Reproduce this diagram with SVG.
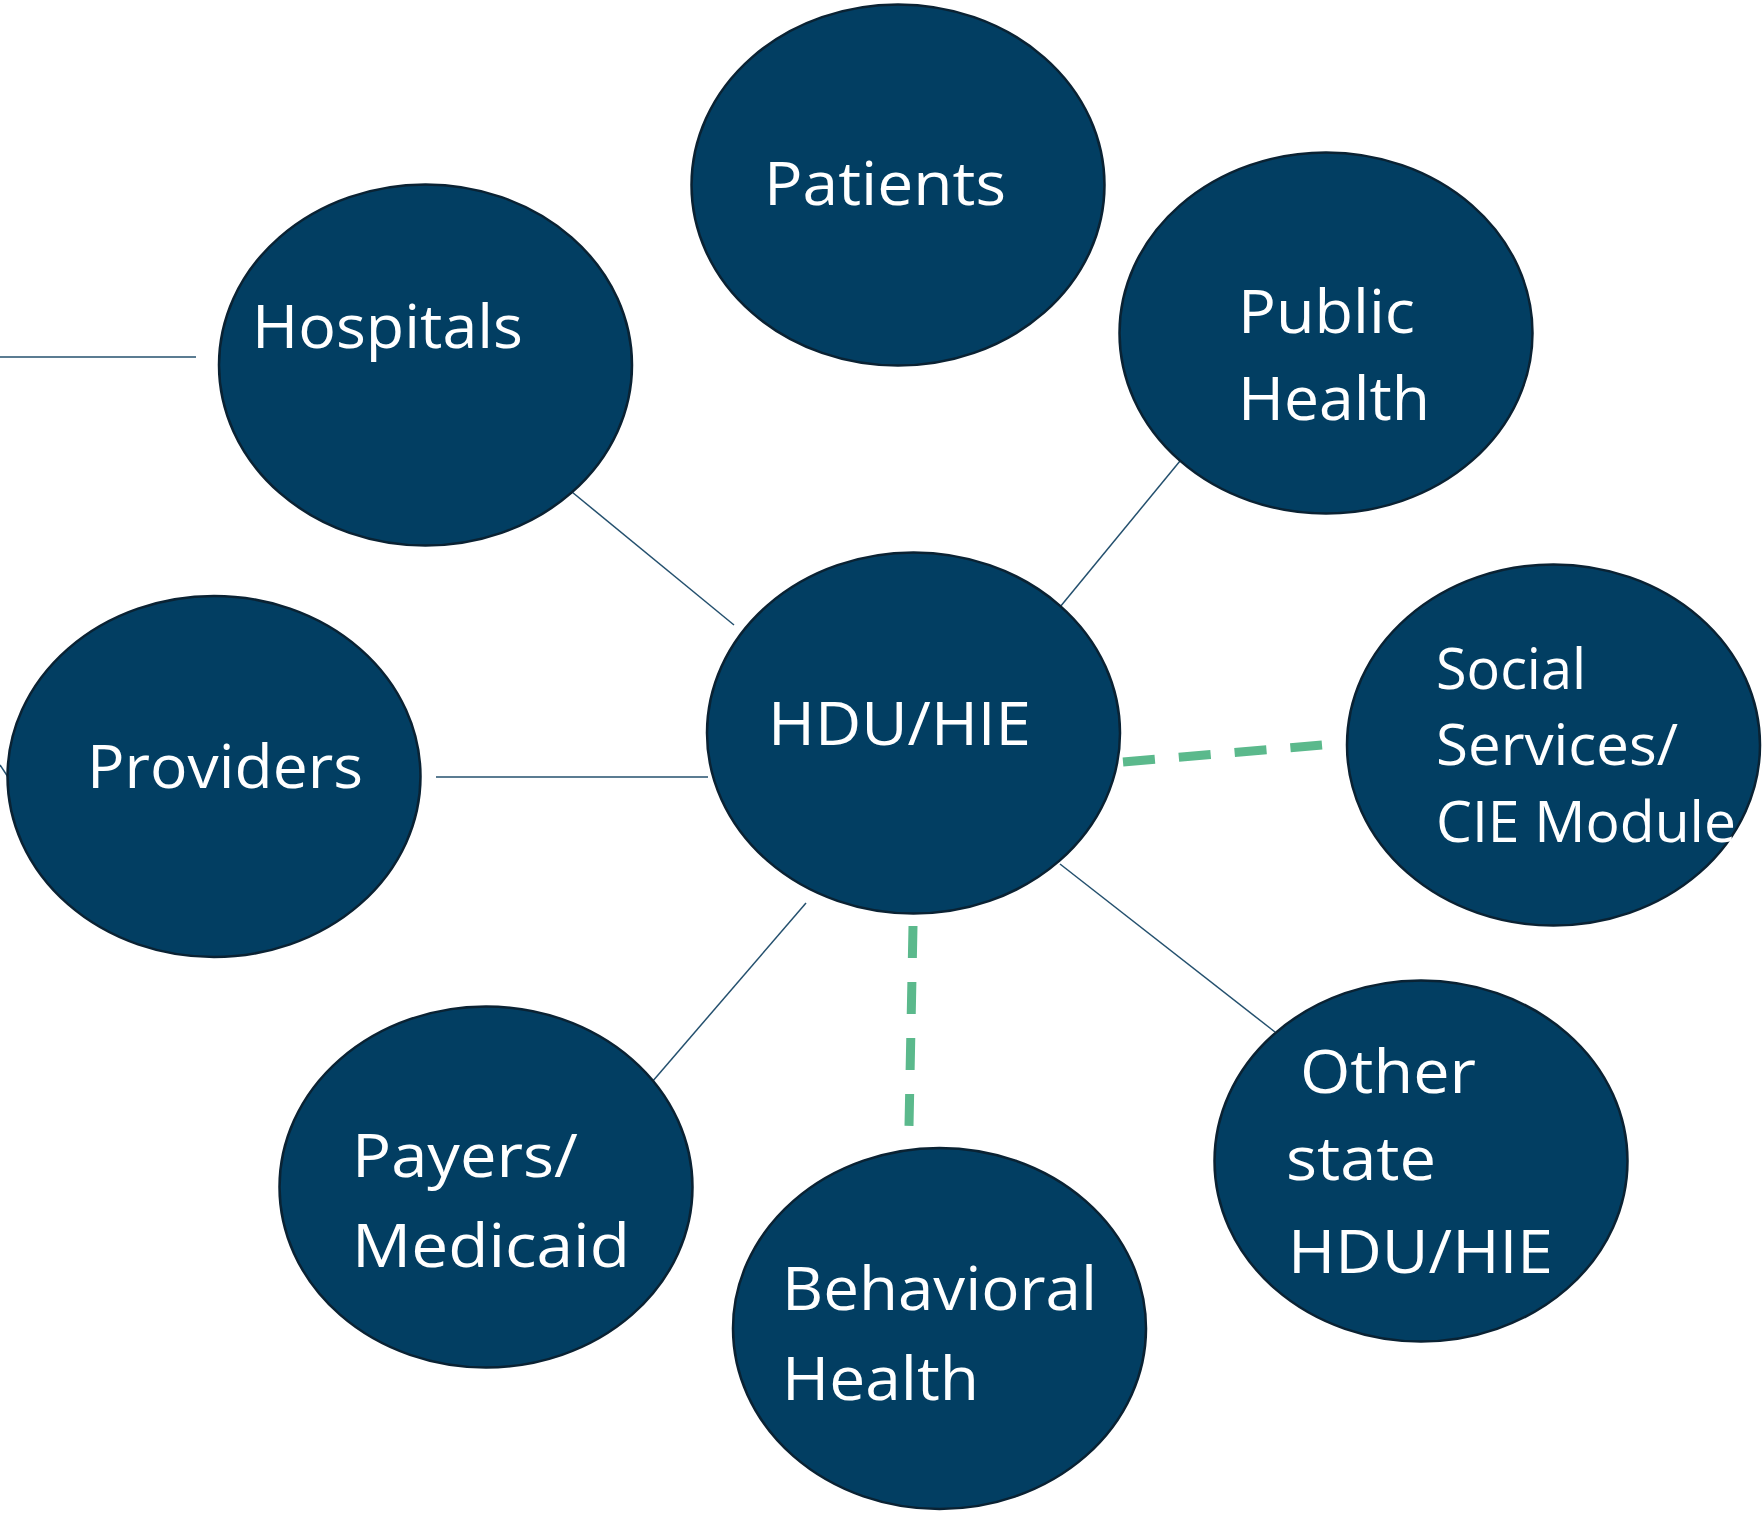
<svg xmlns="http://www.w3.org/2000/svg" width="1763" height="1513" viewBox="0 0 1763 1513">
<style>
.node ellipse{fill:#023e62;stroke:#0a2233;stroke-width:2.5}
.node text{fill:#ffffff;font-family:"Open Sans","Noto Sans","Liberation Sans",sans-serif;font-size:60px}
.solid{stroke:#24506e;stroke-width:1.5;fill:none}
.dash{stroke:#5bb98c;stroke-width:9;stroke-dasharray:32 24;fill:none}
</style>
<rect width="1763" height="1513" fill="#ffffff"/>
<g id="connectors">
<line class="solid" x1="0" y1="357" x2="196" y2="357"/>
<line class="solid" x1="0" y1="765" x2="8" y2="777"/>
<line class="solid" x1="572" y1="492" x2="734" y2="625"/>
<line class="solid" x1="1180" y1="461" x2="1060" y2="607"/>
<line class="solid" x1="436" y1="777" x2="708" y2="777"/>
<line class="solid" x1="652" y1="1082" x2="806" y2="903"/>
<line class="solid" x1="1060" y1="864" x2="1275" y2="1032"/>
<line class="dash" x1="1123" y1="762" x2="1322" y2="745"/>
<line class="dash" x1="913" y1="926" x2="909" y2="1126"/>
</g>
<g id="patients" class="node"><ellipse cx="898" cy="185" rx="206.5" ry="180.5"/><text x="764" y="205" textLength="242" lengthAdjust="spacingAndGlyphs">Patients</text></g>
<g id="hospitals" class="node"><ellipse cx="425.5" cy="365" rx="206.5" ry="180.5"/><text x="252" y="348" textLength="271" lengthAdjust="spacingAndGlyphs">Hospitals</text></g>
<g id="public-health" class="node"><ellipse cx="1326" cy="333" rx="206.5" ry="180.5"/><text x="1238" y="333" textLength="177" lengthAdjust="spacingAndGlyphs">Public</text><text x="1238" y="420" textLength="192" lengthAdjust="spacingAndGlyphs">Health</text></g>
<g id="hdu-hie" class="node"><ellipse cx="913.5" cy="733" rx="206.5" ry="180.5"/><text x="768" y="745" textLength="263" lengthAdjust="spacingAndGlyphs">HDU/HIE</text></g>
<g id="social-services" class="node"><ellipse cx="1553.5" cy="745" rx="206.5" ry="180.5"/><text x="1436" y="689" style="font-size:56px" textLength="150" lengthAdjust="spacingAndGlyphs">Social</text><text x="1436" y="765" style="font-size:56px" textLength="242" lengthAdjust="spacingAndGlyphs">Services/</text><text x="1436" y="842" style="font-size:56px" textLength="300" lengthAdjust="spacingAndGlyphs">CIE Module</text></g>
<g id="providers" class="node"><ellipse cx="214" cy="776.5" rx="206.5" ry="180.5"/><text x="87" y="788" textLength="276" lengthAdjust="spacingAndGlyphs">Providers</text></g>
<g id="payers-medicaid" class="node"><ellipse cx="486" cy="1187" rx="206.5" ry="180.5"/><text x="352" y="1177" textLength="226" lengthAdjust="spacingAndGlyphs">Payers/</text><text x="352" y="1267" textLength="278" lengthAdjust="spacingAndGlyphs">Medicaid</text></g>
<g id="behavioral-health" class="node"><ellipse cx="939.5" cy="1328.5" rx="206.5" ry="180.5"/><text x="782" y="1310" textLength="315" lengthAdjust="spacingAndGlyphs">Behavioral</text><text x="782" y="1400" textLength="197" lengthAdjust="spacingAndGlyphs">Health</text></g>
<g id="other-state" class="node"><ellipse cx="1421" cy="1161" rx="206.5" ry="180.5"/><text x="1300" y="1093" textLength="176" lengthAdjust="spacingAndGlyphs">Other</text><text x="1286" y="1180" textLength="150" lengthAdjust="spacingAndGlyphs">state</text><text x="1288" y="1273" textLength="265" lengthAdjust="spacingAndGlyphs">HDU/HIE</text></g>
</svg>
